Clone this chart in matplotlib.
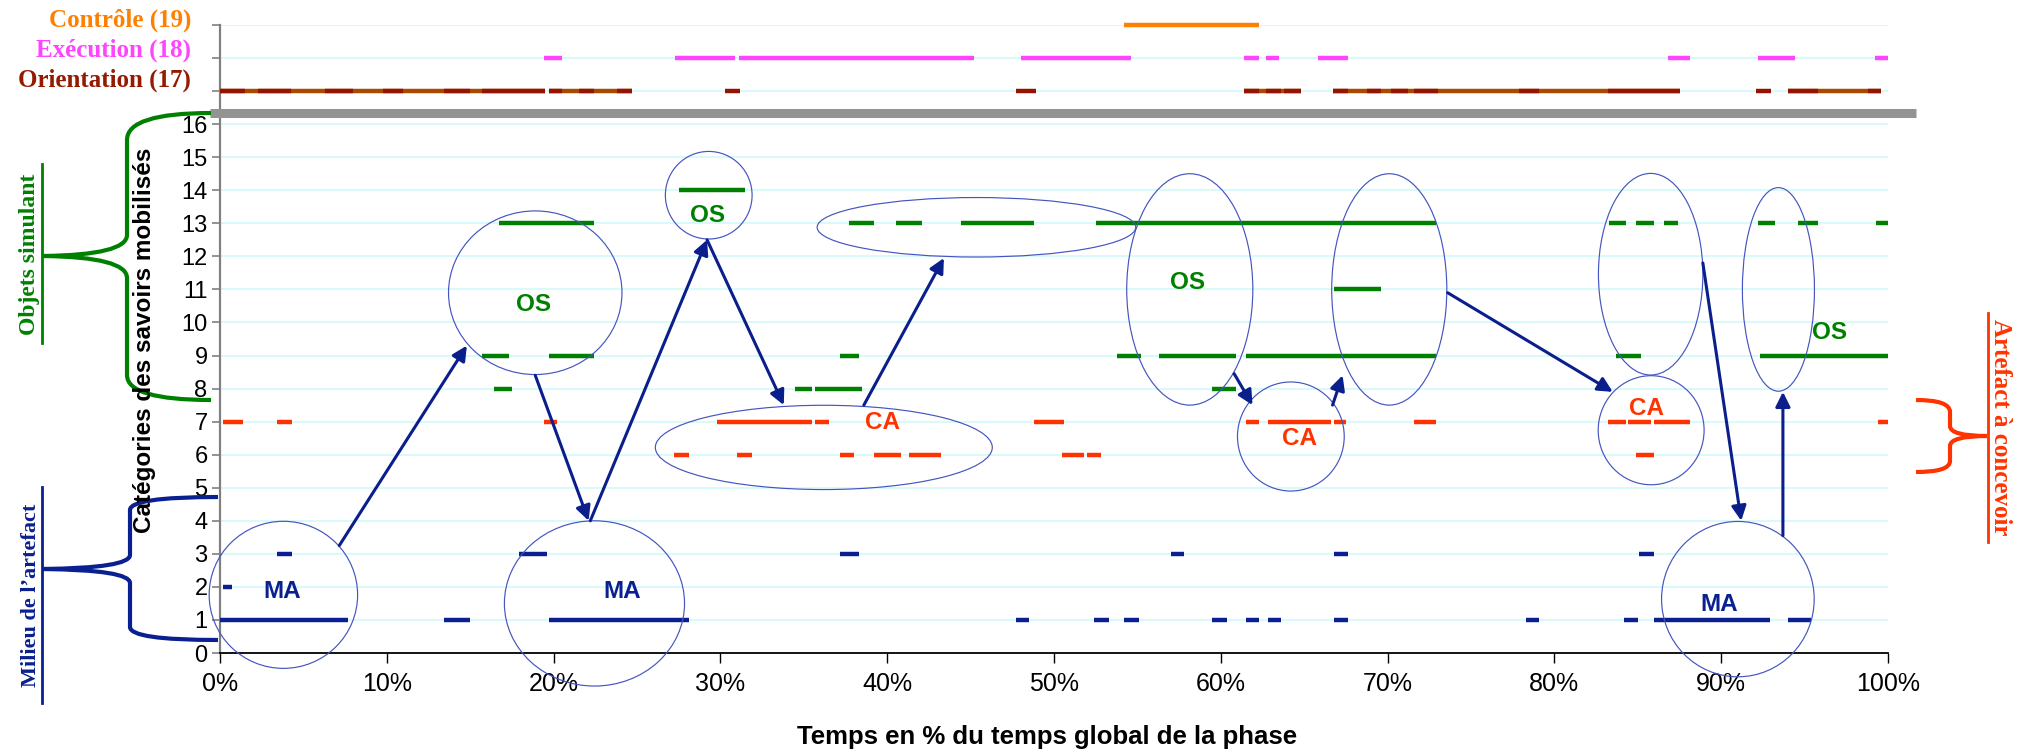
import matplotlib
matplotlib.use('Agg')
import matplotlib.pyplot as plt
from matplotlib.patches import Ellipse, PathPatch
from matplotlib.path import Path
from matplotlib.lines import Line2D

plt.rcParams['font.family'] = ['Liberation Sans', 'DejaVu Sans']

# ---- data: (level, start %, end %) ----
ma_segments = [
    (1, 0, 7.7), (1, 13.4, 15.0), (1, 19.7, 28.1), (1, 47.7, 48.5), (1, 52.4, 53.3),
    (1, 54.2, 55.1), (1, 59.5, 60.4), (1, 61.5, 62.3), (1, 62.8, 63.6), (1, 66.8, 67.6),
    (1, 78.3, 79.1), (1, 84.2, 85.0), (1, 86.0, 92.9), (1, 94.0, 95.4),
    (2, 0.2, 0.7),
    (3, 3.4, 4.3), (3, 17.9, 19.6), (3, 37.2, 38.3), (3, 57.0, 57.8), (3, 66.8, 67.6),
    (3, 85.1, 86.0),
]
ca_segments = [
    (7, 0.2, 1.4), (7, 3.4, 4.3), (7, 19.4, 20.2), (7, 29.8, 35.5), (7, 35.7, 36.5),
    (7, 48.8, 50.6), (7, 61.5, 62.3), (7, 62.8, 66.6), (7, 66.8, 67.5), (7, 71.6, 72.9),
    (7, 83.2, 84.3), (7, 84.4, 85.8), (7, 86.0, 88.1), (7, 99.4, 100),
    (6, 27.2, 28.1), (6, 31.0, 31.9), (6, 37.2, 38.0), (6, 39.2, 40.8), (6, 41.3, 43.2),
    (6, 50.5, 51.8), (6, 52.0, 52.8), (6, 84.9, 86.0),
]
os_segments = [
    (8, 16.4, 17.5), (8, 34.5, 35.5), (8, 35.7, 38.5), (8, 59.5, 60.9),
    (9, 15.7, 17.3), (9, 19.7, 22.4), (9, 37.2, 38.3), (9, 53.8, 55.2), (9, 56.3, 60.9),
    (9, 61.5, 72.9), (9, 83.7, 85.2), (9, 92.3, 100),
    (11, 66.8, 69.6),
    (13, 16.7, 22.4), (13, 37.7, 39.2), (13, 40.5, 42.1), (13, 44.4, 48.8), (13, 52.5, 72.9),
    (13, 83.3, 84.3), (13, 84.9, 86.0), (13, 86.6, 87.4), (13, 92.2, 93.2), (13, 94.6, 95.8),
    (13, 99.3, 100),
    (14, 27.5, 31.5),
]
orient_brown = [(17, 0, 19.5), (17, 19.7, 24.7), (17, 61.4, 64.8), (17, 66.7, 87.5),
                (17, 94.0, 99.6)]
orient_dark = [
    (17, 0, 1.5), (17, 2.3, 4.25), (17, 6.3, 8.0), (17, 9.8, 11.0), (17, 13.4, 15.0),
    (17, 15.7, 19.5), (17, 19.7, 20.5), (17, 21.5, 22.4), (17, 23.8, 24.7), (17, 30.3, 31.2),
    (17, 47.7, 48.9), (17, 61.4, 62.3), (17, 62.7, 63.6), (17, 63.8, 64.8), (17, 66.7, 67.6),
    (17, 68.75, 69.6), (17, 70.2, 71.2), (17, 71.6, 73.0), (17, 77.9, 79.1), (17, 83.2, 87.5),
    (17, 92.1, 93.0), (17, 94.0, 95.8), (17, 98.8, 99.6),
]
exec_segments = [
    (18, 19.4, 20.5), (18, 27.3, 30.9), (18, 31.1, 45.2), (18, 48.0, 54.6), (18, 61.4, 62.3),
    (18, 62.7, 63.5), (18, 65.8, 67.6), (18, 86.8, 88.1), (18, 92.2, 94.4), (18, 99.2, 100),
]
control_segments = [(19, 54.2, 62.3)]

x_ticks = [0, 10, 20, 30, 40, 50, 60, 70, 80, 90, 100]
x_tick_labels = ['0%', '10%', '20%', '30%', '40%', '50%', '60%', '70%', '80%', '90%', '100%']
y_ticks = list(range(0, 20))
y_tick_labels = [str(i) for i in range(0, 17)] + ['', '', '']

# annotation groups: (cx, cy, width, height) in data units
ellipses = [
    (3.8, 1.76, 8.9, 4.45), (22.45, 1.5, 10.8, 5.0), (36.2, 6.22, 20.2, 2.55),
    (18.9, 10.9, 10.4, 4.95), (29.3, 13.85, 5.2, 2.65), (45.35, 12.88, 19.1, 1.8),
    (58.14, 11.0, 7.56, 7.0), (70.1, 11.0, 6.9, 7.0), (64.2, 6.55, 6.4, 3.3),
    (85.77, 11.46, 6.26, 6.1), (85.8, 6.74, 6.35, 3.3), (93.43, 11.0, 4.32, 6.16),
    (91.0, 1.63, 9.15, 4.7),
]
arrows = [
    ((7.15, 3.25), (14.8, 9.3)), ((18.9, 8.4), (22.1, 4.0)), ((22.2, 4.0), (29.2, 12.5)),
    ((29.2, 12.5), (33.8, 7.5)), ((38.6, 7.5), (43.4, 11.95)), ((60.8, 8.45), (61.9, 7.5)),
    ((66.7, 7.5), (67.3, 8.4)), ((73.6, 10.9), (83.5, 7.9)), ((88.9, 11.8), (91.2, 4.0)),
    ((93.7, 3.55), (93.7, 7.9)),
]
group_labels = [
    ('MA', 3.7, 1.86, '#0A2090'), ('MA', 24.1, 1.86, '#0A2090'), ('MA', 89.9, 1.48, '#0A2090'),
    ('CA', 39.7, 6.96, '#FF3300'), ('CA', 64.7, 6.5, '#FF3300'), ('CA', 85.5, 7.41, '#FF3300'),
    ('OS', 18.8, 10.55, '#008000'), ('OS', 29.26, 13.24, '#008000'),
    ('OS', 58.0, 11.2, '#008000'), ('OS', 96.5, 9.69, '#008000'),
]

W, H = 2029, 755
fig = plt.figure(figsize=(W / 100, H / 100), dpi=100)
ax = fig.add_axes([220 / W, 1 - 653 / H, 1668 / W, 628 / H])
ax.set_xlim(0, 100)
ax.set_ylim(0, 19)

# gridlines
for y in range(1, 20):
    ax.axhline(y, color='#D6FAFA', lw=1.3, zorder=0)


def draw(segs, color, lw=3.2, z=3):
    ax.hlines([s[0] for s in segs], [s[1] for s in segs], [s[2] for s in segs],
              colors=color, lw=lw, zorder=z, clip_on=False)


draw(ma_segments, '#0A2090')
draw(ca_segments, '#FF3300')
draw(os_segments, '#008000')
draw(orient_brown, '#A84A00')
draw(orient_dark, '#931400', z=4)
draw(exec_segments, '#FF44FF')
draw(control_segments, '#FF8000')

# separator band
ax.plot([-0.6, 101.7], [16.35, 16.35], color='#939393', lw=6.5, clip_on=False,
        solid_capstyle='butt', zorder=5)

for cx, cy, w, h in ellipses:
    ax.add_patch(Ellipse((cx, cy), w, h, fill=False, edgecolor='#4455C0', lw=0.85,
                         zorder=6, clip_on=False))

for (x0, y0), (x1, y1) in arrows:
    ax.annotate('', xy=(x1, y1), xytext=(x0, y0),
                arrowprops=dict(arrowstyle='-|>', color='#0A1E8C', lw=2.2,
                                mutation_scale=22, shrinkA=0, shrinkB=0), zorder=7)

for txt, x, y, c in group_labels:
    ax.text(x, y, txt, color=c, fontsize=17.5, fontweight='bold', ha='center', va='center',
            zorder=8)

# axes styling
for side in ['top', 'right']:
    ax.spines[side].set_visible(False)
ax.spines['left'].set_color('#808080')
ax.spines['left'].set_linewidth(1.6)
ax.spines['bottom'].set_color('black')
ax.spines['bottom'].set_linewidth(1.3)
ax.set_xticks(x_ticks)
ax.set_xticklabels(x_tick_labels)
ax.set_yticks(y_ticks)
ax.set_yticklabels(y_tick_labels)
ax.tick_params(axis='x', length=7, width=1, colors='black', labelsize=18, pad=7)
ax.tick_params(axis='y', length=6, width=1.2, color='#808080', labelcolor='black',
               labelsize=17, pad=3)

fig.text(1047 / W, 1 - 737 / H, 'Temps en % du temps global de la phase', fontsize=18.5,
         fontweight='bold', ha='center', va='center')
fig.text(144 / W, 1 - 340 / H, 'Catégories des savoirs mobilisés', fontsize=17.5,
         fontweight='bold', rotation=90, ha='center', va='center')

# category labels of the top band
serif = ['Liberation Serif', 'DejaVu Serif']
for txt, y, c in [('Contrôle (19)', 20, '#FF8000'), ('Exécution (18)', 50, '#FF44FF'),
                  ('Orientation (17)', 80, '#941A00')]:
    fig.text(191 / W, 1 - y / H, txt, fontsize=18, fontweight='bold', family=serif,
             color=c, ha='right', va='center')


def brace(points, color):
    codes = [Path.MOVETO]
    verts = [points[0]]
    for kind, pts in points[1:]:
        if kind == 'L':
            codes.append(Path.LINETO)
            verts.append(pts)
        else:
            codes += [Path.CURVE3, Path.CURVE3]
            verts += list(pts)
    verts = [(x / W, 1 - y / H) for x, y in verts]
    fig.add_artist(PathPatch(Path(verts, codes), transform=fig.transFigure, fill=False,
                             edgecolor=color, lw=3))


brace([(211, 113), ('Q', [(127, 113), (127, 140)]), ('L', (127, 235)),
       ('Q', [(127, 255), (43, 256)]), ('Q', [(127, 257), (127, 278)]), ('L', (127, 375)),
       ('Q', [(127, 400), (211, 400)])], '#008000')
brace([(218, 497), ('Q', [(130, 497), (130, 510)]), ('L', (130, 555)),
       ('Q', [(130, 568), (43, 569)]), ('Q', [(130, 570), (130, 583)]), ('L', (130, 627)),
       ('Q', [(130, 640), (218, 640)])], '#0A2090')
brace([(1916, 400), ('Q', [(1950, 400), (1950, 412)]), ('L', (1950, 426)),
       ('Q', [(1950, 436), (1987, 436)]), ('Q', [(1950, 436), (1950, 446)]), ('L', (1950, 461)),
       ('Q', [(1950, 472), (1916, 472)])], '#FF3300')

# side group titles with underline
side_titles = [('Objets simulant', 30, 254, 90, '#008000', 17, 42, 164, 343),
               ("Milieu de l\u2019artefact", 31, 595, 90, '#0A2090', 16, 42, 487, 703),
               ('Artefact à concevoir', 2001, 427, -90, '#FF3300', 18, 1988, 313, 542)]
for txt, x, y, rot, c, fs, ux, uy0, uy1 in side_titles:
    fig.text(x / W, 1 - y / H, txt, fontsize=fs, fontweight='bold', family=serif, color=c,
             rotation=rot, ha='center', va='center')
    fig.add_artist(Line2D([ux / W, ux / W], [1 - uy0 / H, 1 - uy1 / H],
                          transform=fig.transFigure, color=c, lw=2))

fig.savefig('out.png', dpi=100)
